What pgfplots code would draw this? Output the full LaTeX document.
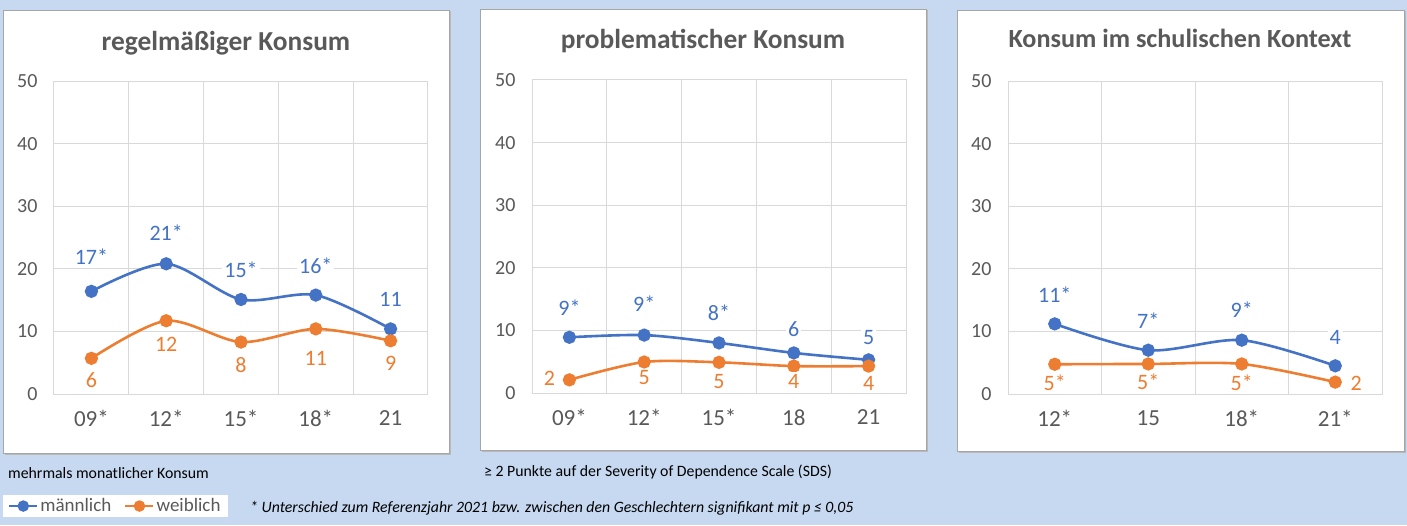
\documentclass[border=0pt]{standalone}
\usepackage{pgfplots}
\usepackage{pgfplotstable}
\pgfplotsset{compat=1.18}
\usepackage{fontspec}
\setmainfont{Carlito}
\definecolor{bgc}{HTML}{C6D9F1}
\definecolor{gridc}{HTML}{D9D9D9}
\definecolor{txtc}{HTML}{595959}
\definecolor{mblue}{HTML}{4472C4}
\definecolor{forange}{HTML}{ED7D31}
\definecolor{framec}{HTML}{A6A6A6}

% panel 1: regelmaessiger Konsum
\pgfplotstableread{
x y lbl dx dy
0 16.4 17* 0 35
1 20.8 21* 0 31
2 15.1 15* 0 30
3 15.8 16* 0 29
4 10.4 11 0 29
}\pAm
\pgfplotstableread{
x y lbl dx dy
0 5.7 6 0 -22
1 11.7 12 0 -24
2 8.3 8 0 -23
3 10.4 11 0 -30
4 8.5 9 0 -23
}\pAf
% panel 2: problematischer Konsum
\pgfplotstableread{
x y lbl dx dy
0 8.9 9* 0 30
1 9.25 9* 0 31
2 8.0 8* 0 30
3 6.4 6 0 24
4 5.3 5 0 22
}\pBm
\pgfplotstableread{
x y lbl dx dy
0 2.1 2 -20 1
1 4.95 5 0 -16
2 4.9 5 0 -19
3 4.3 4 0 -15
4 4.3 4 0 -17
}\pBf
% panel 3: Konsum im schulischen Kontext
\pgfplotstableread{
x y lbl dx dy
0 11.2 11* 0 29
1 7.0 7* 0 29
2 8.6 9* 0 30
3 4.5 4 0 28
}\pCm
\pgfplotstableread{
x y lbl dx dy
0 4.75 5* 0 -18
1 4.8 5* 0 -18
2 4.8 5* 0 -19
3 1.9 2 21 -1
}\pCf

\pgfplotsset{
  panel/.style={
    scale only axis, width=374pt, height=313pt, anchor=south west,
    ymin=0, ymax=50, ytick={0,10,...,50}, yticklabels={0,10,20,30,40,50},
    axis line style={draw=gridc, line width=1pt},
    ymajorgrids=true, xmajorgrids=false, xminorgrids=true,
    major grid style={draw=gridc, line width=1pt},
    minor grid style={draw=gridc, line width=1pt},
    major tick length=0pt, minor tick length=0pt,
    /pgf/number format/assume math mode=true,
    yticklabel style={font=\fontsize{20}{23}\selectfont, text=txtc, xshift=-13pt},
    xticklabel style={font=\fontsize{23}{27}\selectfont, text=txtc, yshift=-13pt},
    clip=false,
  },
  ser/.style={
    smooth, tension=0.5, line width=2.6pt, mark=*, mark size=5.3pt,
    mark options={solid},
    nodes near coords, point meta=explicit symbolic,
    visualization depends on={\thisrow{dx}\as\ldx},
    visualization depends on={\thisrow{dy}\as\ldy},
    every node near coord/.append style={anchor=center, xshift=\ldx pt, yshift=\ldy pt,
      fill=white, inner sep=2pt, font=\fontsize{22}{25}\selectfont},
  },
}

\begin{document}
\begin{tikzpicture}[x=1pt,y=1pt]
\fill[bgc] (0,0) rectangle (1407,525);
% panel frames
\foreach \a/\b/\c/\d in {3/72/449/515, 480/75/926/516, 957/74/1404/515}{
  \fill[gray!55] (\a+1.5,\b-1.5) rectangle (\c+1.5,\d-1.5);
  \fill[white, draw=framec, line width=0.8pt] (\a,\b) rectangle (\c,\d);
}
% titles
\node[anchor=base, font=\fontsize{27.4}{31}\selectfont\bfseries, text=txtc] at (226,474) {regelmäßiger Konsum};
\node[anchor=base, font=\fontsize{27.4}{31}\selectfont\bfseries, text=txtc] at (703,476.7) {problematischer Konsum};
\node[anchor=base, font=\fontsize{26.2}{30}\selectfont\bfseries, text=txtc] at (1180,477) {Konsum im schulischen Kontext};
% notes
\node[anchor=west, font=\fontsize{15.8}{18}\selectfont, inner sep=0pt] at (8,52) {mehrmals monatlicher Konsum};
\node[anchor=west, font=\fontsize{15.8}{18}\selectfont, inner sep=0pt] at (484,53) {≥ 2 Punkte auf der Severity of Dependence Scale (SDS)};
\node[anchor=west, font=\fontsize{15.8}{18}\selectfont\itshape, inner sep=0pt] at (250,17) {* Unterschied zum Referenzjahr 2021 bzw. zwischen den Geschlechtern signifikant mit p ≤ 0,05};

\begin{axis}[panel, at={(54pt,131pt)},
  xmin=-0.5, xmax=4.5, xtick={0,...,4}, xticklabels={09*,12*,15*,18*,21},
  minor xtick={-0.5,0.5,...,4.5},
  legend style={at={(-0.1364,-0.3227)}, anchor=north west, draw=none, fill=white,
    font=\fontsize{19}{22}\selectfont, text=txtc, inner xsep=5pt, inner ysep=1.5pt,
    /tikz/every even column/.append style={column sep=11pt}},
  legend columns=2,
  legend image code/.code={\draw[mark repeat=2,mark phase=2, line width=2.2pt, mark size=4.6pt] plot coordinates {(0pt,0pt) (14pt,0pt) (28pt,0pt)};},
]
\addplot[ser, color=mblue, every node near coord/.append style={text=mblue}] table[x=x,y=y,meta=lbl]{\pAm};
\addlegendentry{männlich}
\addplot[ser, color=forange, every node near coord/.append style={text=forange}] table[x=x,y=y,meta=lbl]{\pAf};
\addlegendentry{weiblich}
\end{axis}

\begin{axis}[panel, at={(532pt,132pt)},
  xmin=-0.5, xmax=4.5, xtick={0,...,4}, xticklabels={09*,12*,15*,18,21},
  minor xtick={-0.5,0.5,...,4.5},
]
\addplot[ser, color=mblue, every node near coord/.append style={text=mblue}] table[x=x,y=y,meta=lbl]{\pBm};
\addplot[ser, color=forange, every node near coord/.append style={text=forange}] table[x=x,y=y,meta=lbl]{\pBf};
\end{axis}

\begin{axis}[panel, at={(1008pt,131pt)},
  xmin=-0.5, xmax=3.5, xtick={0,...,3}, xticklabels={12*,15,18*,21*},
  minor xtick={-0.5,0.5,...,3.5},
]
\addplot[ser, color=mblue, every node near coord/.append style={text=mblue}] table[x=x,y=y,meta=lbl]{\pCm};
\addplot[ser, color=forange, every node near coord/.append style={text=forange}] table[x=x,y=y,meta=lbl]{\pCf};
\end{axis}
\pgfresetboundingbox
\useasboundingbox (0,0) rectangle (1407,525);
\end{tikzpicture}
\end{document}
